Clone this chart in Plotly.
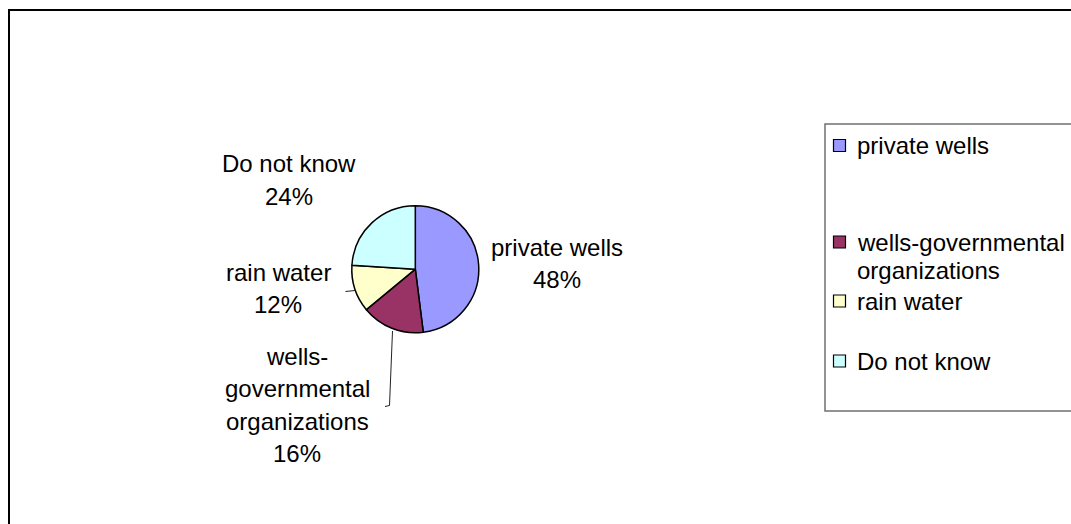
import plotly.graph_objects as go

# ---- data ----
categories = ["private wells", "wells-governmental organizations", "rain water", "Do not know"]
values = [48, 16, 12, 24]
colors = ["#9999FF", "#993366", "#FFFFCC", "#CCFFFF"]
pie_label_lines = [["private wells"], ["wells-", "governmental", "organizations"], ["rain water"], ["Do not know"]]
legend_label_lines = [["private wells"], ["wells-governmental", "organizations"], ["rain water"], ["Do not know"]]

# ---- layout helpers (pixel -> paper) ----
W, H = 1071, 524
def px(x):
    return x / W
def py(y):
    return 1 - y / H

FONT = dict(family="Liberation Sans, Arial, sans-serif", size=24, color="black")

total = sum(values)
percents = [f"{round(v * 100 / total)}%" for v in values]

cx, cy, r = 415.3, 269.2, 63.5

fig = go.Figure(go.Pie(
    labels=categories,
    values=values,
    sort=False,
    direction="clockwise",
    rotation=0,
    marker=dict(colors=colors, line=dict(color="black", width=1.5)),
    textinfo="none",
    hoverinfo="label+percent",
    showlegend=False,
    domain=dict(x=[px(cx - r), px(cx + r)], y=[py(cy + r), py(cy - r)]),
))

annotations = []
# data labels (first line centre x, y in px)
label_pos = [(557, 247), (297, 356), (278, 272), (289, 164)]
line_step = 32.5
for lines, pct, (lx, ly) in zip(pie_label_lines, percents, label_pos):
    for i, t in enumerate(lines + [pct]):
        annotations.append(dict(
            x=px(lx), y=py(ly + i * line_step), xref="paper", yref="paper",
            text=t, showarrow=False, xanchor="center", yanchor="middle", font=FONT,
        ))

# legend
legend_y = [145.5, 242, 301, 361]
legend_step = 28
shapes = []
for lines, col, ly in zip(legend_label_lines, colors, legend_y):
    shapes.append(dict(type="rect", xref="paper", yref="paper",
                       x0=px(833.5), x1=px(845.5), y0=py(ly - 6), y1=py(ly + 6),
                       fillcolor=col, line=dict(color="black", width=1.2)))
    for i, t in enumerate(lines):
        annotations.append(dict(
            x=px(856), y=py(ly + i * legend_step), xref="paper", yref="paper",
            text=t, showarrow=False, xanchor="left", yanchor="middle", font=FONT,
            borderpad=0,
        ))

# outer border and legend box
shapes.append(dict(type="rect", xref="paper", yref="paper",
                   x0=px(9), y0=py(10), x1=1.3, y1=-0.3,
                   line=dict(color="black", width=2), fillcolor="rgba(0,0,0,0)"))
shapes.append(dict(type="rect", xref="paper", yref="paper",
                   x0=px(825), y0=py(124), x1=1.3, y1=py(411),
                   line=dict(color="#707070", width=1.5), fillcolor="rgba(0,0,0,0)"))

# leader lines
leader = [((345.5, 291.5), (355, 290.5)),
          ((392.5, 331), (389.5, 405.5)),
          ((389.5, 405.5), (385, 406.5))]
for (x0, y0), (x1, y1) in leader:
    shapes.append(dict(type="line", xref="paper", yref="paper",
                       x0=px(x0), y0=py(y0), x1=px(x1), y1=py(y1),
                       line=dict(color="#222222", width=1)))

fig.update_layout(
    width=W, height=H,
    margin=dict(l=0, r=0, t=0, b=0),
    paper_bgcolor="white", plot_bgcolor="white",
    annotations=annotations, shapes=shapes,
    showlegend=False,
)

fig.write_html(
    "out.html",
    config={"displayModeBar": False},
    post_script="document.body.style.margin='0';document.body.style.overflow='hidden';",
)
